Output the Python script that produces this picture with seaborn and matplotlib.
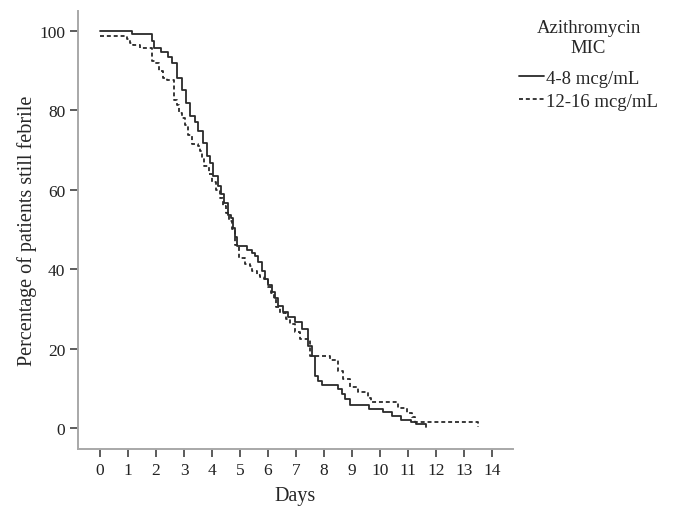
import pandas as pd
import seaborn as sns
import matplotlib.pyplot as plt
from matplotlib.lines import Line2D

# Kaplan-Meier style step curves
days_low = [0, 1.15, 1.86, 1.93, 2.18, 2.43, 2.57, 2.75, 2.93, 3.07, 3.21, 3.39, 3.50,
            3.68, 3.82, 3.93, 4.04, 4.21, 4.32, 4.43, 4.57, 4.68, 4.75, 4.82, 4.89,
            5.25, 5.43, 5.54, 5.64, 5.79, 5.89, 6.00, 6.14, 6.25, 6.36, 6.54, 6.71,
            6.96, 7.21, 7.43, 7.57, 7.68, 7.79, 7.93, 8.50, 8.64, 8.75, 8.93, 9.60,
            10.10, 10.45, 10.75, 11.10, 11.30, 11.65]
pct_low = [100, 99.2, 97.5, 95.7, 94.7, 93.3, 92.0, 88.0, 85.0, 81.8, 78.5, 77.0, 74.8,
           71.7, 68.4, 66.7, 63.4, 60.9, 59.0, 56.6, 53.5, 52.8, 50.3, 48.2, 45.7,
           44.7, 44.0, 43.2, 41.9, 39.6, 37.6, 35.9, 34.3, 32.6, 30.8, 29.3, 28.0,
           26.8, 25.0, 20.7, 18.2, 13.1, 11.9, 10.9, 9.8, 8.6, 7.3, 5.8, 4.8,
           4.0, 3.0, 2.0, 1.5, 1.0, 0.2]

days_high = [0, 0.96, 1.07, 1.18, 1.43, 1.86, 1.96, 2.11, 2.25, 2.39, 2.64, 2.75, 2.82,
             2.93, 3.04, 3.14, 3.29, 3.50, 3.57, 3.64, 3.71, 3.90, 4.00, 4.14, 4.30,
             4.40, 4.50, 4.60, 4.70, 4.82, 4.96, 5.18, 5.36, 5.43, 5.61, 5.71, 5.86,
             6.00, 6.10, 6.20, 6.30, 6.43, 6.64, 6.79, 6.96, 7.14, 7.50, 8.21, 8.50,
             8.68, 8.93, 9.21, 9.57, 9.70, 10.64, 10.96, 11.14, 11.25, 13.50, 13.501]
pct_high = [98.8, 98.0, 97.0, 96.3, 95.7, 92.4, 92.0, 89.9, 88.1, 87.6, 82.6, 81.3, 79.3,
            78.0, 76.3, 73.7, 71.5, 70.9, 69.7, 67.9, 65.9, 64.0, 62.0, 60.0, 58.0,
            56.0, 54.0, 52.0, 50.0, 46.0, 42.7, 41.4, 40.9, 39.4, 38.4, 38.1, 37.6,
            35.5, 34.0, 32.5, 30.5, 29.0, 27.5, 26.3, 24.2, 22.5, 18.2, 17.0, 14.4,
            12.4, 10.3, 9.1, 7.6, 6.6, 5.0, 3.8, 2.8, 1.5, 1.5, 0.2]

x_ticks = list(range(0, 15))
y_ticks = [0, 20, 40, 60, 80, 100]
labels = ["4-8 mcg/mL", "12-16 mcg/mL"]

low = pd.DataFrame({"Days": days_low, "pct": pct_low})
high = pd.DataFrame({"Days": days_high, "pct": pct_high})

sns.set_style("white")
plt.rcParams["font.family"] = ["Liberation Serif", "DejaVu Serif"]

fig = plt.figure(figsize=(6.81, 5.1), dpi=100)
ax = fig.add_axes([0.1145, 0.1176, 0.6385, 0.859])

dash = (0, (2.2, 1.6))
sns.lineplot(data=low, x="Days", y="pct", ax=ax, drawstyle="steps-post",
             color="#2a2a2a", linewidth=1.3, sort=False, estimator=None)
sns.lineplot(data=high, x="Days", y="pct", ax=ax, drawstyle="steps-post",
             color="#2a2a2a", linewidth=1.3, linestyle=dash,
             sort=False, estimator=None)

ax.set_xlim(-0.79, 14.75)
ax.set_ylim(-5.3, 105)
ax.set_xticks(x_ticks)
ax.set_yticks(y_ticks)
ax.tick_params(axis="both", bottom=True, left=True, direction="out", length=6,
               width=1.2, color="#404040", labelsize=12.5, labelcolor="#222222", pad=3)
for side in ["top", "right"]:
    ax.spines[side].set_visible(False)
for side in ["left", "bottom"]:
    ax.spines[side].set_color("#a8a8a8")
    ax.spines[side].set_linewidth(1.4)

ax.set_xlabel("Days", fontsize=14.5, labelpad=6)
ax.set_ylabel("Percentage of patients still febrile", fontsize=14.5, labelpad=2)

handles = [Line2D([], [], color="#2a2a2a", lw=1.3),
           Line2D([], [], color="#2a2a2a", lw=1.3, linestyle=dash)]
leg = fig.legend(handles, labels, title="Azithromycin\nMIC", loc="upper left",
                 bbox_to_anchor=(0.738, 0.993), frameon=False, fontsize=13.5,
                 title_fontsize=13.5, handlelength=1.3, handletextpad=0.1,
                 labelspacing=0.3)
leg.get_title().set_multialignment("center")
leg._legend_box.sep = 10

fig.savefig("out.png", dpi=100)
